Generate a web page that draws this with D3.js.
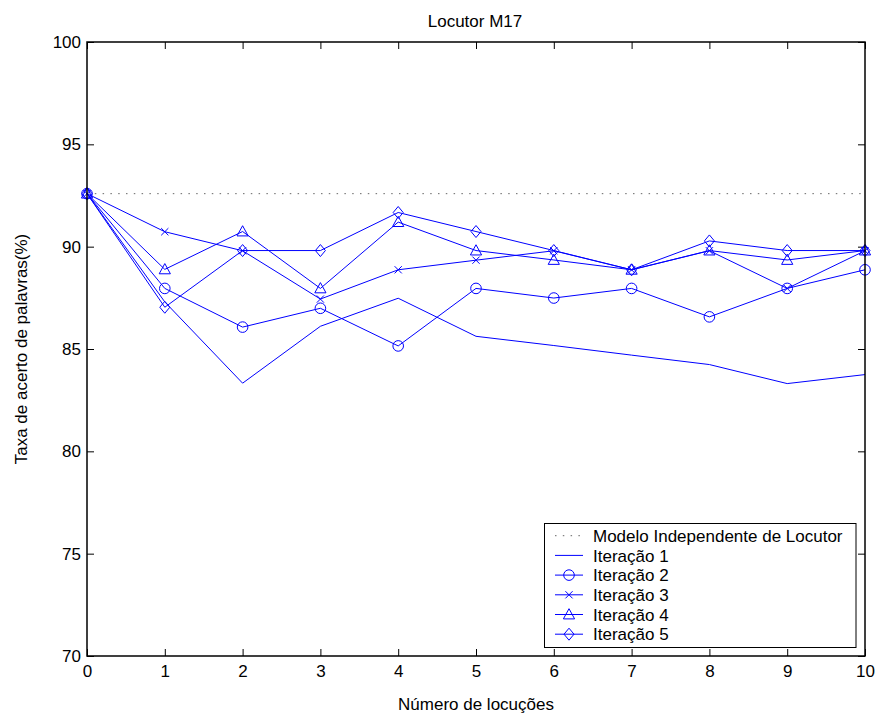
<!DOCTYPE html>
<html>
<head>
<meta charset="utf-8">
<script src="https://cdn.jsdelivr.net/npm/d3@7"></script>
<style>
  html, body { margin: 0; padding: 0; background: #fff; }
  svg { display: block; }
  text { font-family: "Liberation Sans", Arial, Helvetica, sans-serif; fill: #000; }
</style>
</head>
<body>
<svg id="chart" width="878" height="715"></svg>
<script>
// Number of adaptation utterances
const locucoes = [0, 1, 2, 3, 4, 5, 6, 7, 8, 9, 10];

// Speaker-independent baseline accuracy (%)
const modeloIndependente = 92.59;

// Word accuracy (%) per adaptation iteration
const iteracao1 = [92.59, 87.30, 83.33, 86.11, 87.48, 85.62, 85.17, 84.70, 84.24, 83.31, 83.75];
const iteracao2 = [92.59, 87.96, 86.07, 86.99, 85.15, 87.96, 87.49, 87.96, 86.57, 87.96, 88.87];
const iteracao3 = [92.59, 90.73, 89.80, 87.44, 88.87, 89.34, 89.80, 88.87, 89.80, 87.96, 89.80];
const iteracao4 = [92.59, 88.89, 90.74, 87.96, 91.20, 89.81, 89.35, 88.87, 89.81, 89.35, 89.81];
const iteracao5 = [92.59, 87.04, 89.81, 89.81, 91.67, 90.74, 89.81, 88.87, 90.28, 89.81, 89.81];

const xTicks = [0, 1, 2, 3, 4, 5, 6, 7, 8, 9, 10];
const yTicks = [70, 75, 80, 85, 90, 95, 100];

const legendLabels = [
  "Modelo Independente de Locutor",
  "Iteração 1", "Iteração 2", "Iteração 3", "Iteração 4", "Iteração 5"
];

const svg = d3.select("#chart");
const plotLeft = 87, plotRight = 865, plotTop = 42, plotBottom = 656;
const blue = "#0000ff";
const fontSize = 17;

const x = d3.scaleLinear().domain([0, 10]).range([plotLeft, plotRight]);
const y = d3.scaleLinear().domain([70, 100]).range([plotBottom, plotTop]);

// Marker shapes
const markerPaths = {
  none: null,
  circle: "M5.3,0A5.3,5.3 0 1,1 -5.3,0A5.3,5.3 0 1,1 5.3,0Z",
  cross: "M-3.6,-3.6L3.6,3.6M-3.6,3.6L3.6,-3.6",
  triangle: "M0,-5.8L5.6,4.4L-5.6,4.4Z",
  diamond: "M0,-6L5,0L0,6L-5,0Z"
};

const series = [
  { values: iteracao1, marker: "none" },
  { values: iteracao2, marker: "circle" },
  { values: iteracao3, marker: "cross" },
  { values: iteracao4, marker: "triangle" },
  { values: iteracao5, marker: "diamond" }
];

// Axes: ticks point inward on all four sides
const axisG = svg.append("g");
const bottomAxis = d3.axisBottom(x).tickValues(xTicks).tickSize(-7).tickPadding(9).tickFormat(d3.format("d"));
const leftAxis = d3.axisLeft(y).tickValues(yTicks).tickSize(-7).tickPadding(6).tickFormat(d3.format("d"));
const topAxis = d3.axisTop(x).tickValues(xTicks).tickSize(-7).tickFormat("");
const rightAxis = d3.axisRight(y).tickValues(yTicks).tickSize(-7).tickFormat("");

function styleAxis(g) {
  g.select(".domain").remove();
  g.selectAll(".tick line").attr("stroke", "#000").attr("stroke-width", 1);
  g.selectAll(".tick text").attr("font-size", fontSize).attr("fill", "#000")
    .attr("font-family", "Liberation Sans, Arial, sans-serif");
}

axisG.append("g").attr("transform", `translate(0,${plotBottom})`).call(bottomAxis).call(styleAxis);
axisG.append("g").attr("transform", `translate(${plotLeft},0)`).call(leftAxis).call(styleAxis);
axisG.append("g").attr("transform", `translate(0,${plotTop})`).call(topAxis).call(styleAxis);
axisG.append("g").attr("transform", `translate(${plotRight},0)`).call(rightAxis).call(styleAxis);

// Speaker-independent reference (dotted)
svg.append("line")
  .attr("x1", x(0)).attr("x2", x(10))
  .attr("y1", y(modeloIndependente)).attr("y2", y(modeloIndependente))
  .attr("stroke", "#666").attr("stroke-width", 1)
  .attr("stroke-dasharray", "1.5,6.3");

// Iteration lines and markers
const line = d3.line().x((d, i) => x(locucoes[i])).y(d => y(d));
series.forEach(s => {
  svg.append("path")
    .attr("d", line(s.values))
    .attr("fill", "none").attr("stroke", blue).attr("stroke-width", 1);
  if (markerPaths[s.marker]) {
    svg.append("g").selectAll("path")
      .data(s.values)
      .join("path")
      .attr("transform", (d, i) => `translate(${x(locucoes[i])},${y(d)})`)
      .attr("d", markerPaths[s.marker])
      .attr("fill", "none").attr("stroke", blue).attr("stroke-width", 1);
  }
});

// Plot frame
svg.append("rect")
  .attr("x", plotLeft).attr("y", plotTop)
  .attr("width", plotRight - plotLeft).attr("height", plotBottom - plotTop)
  .attr("fill", "none").attr("stroke", "#000").attr("stroke-width", 1.5);

// Title and axis labels
svg.append("text").attr("x", 475).attr("y", 26.5).attr("text-anchor", "middle")
  .attr("font-size", fontSize).text("Locutor M17");
svg.append("text").attr("x", 476).attr("y", 710).attr("text-anchor", "middle")
  .attr("font-size", fontSize).text("Número de locuções");
svg.append("text").attr("transform", `translate(27,${(plotTop + plotBottom) / 2}) rotate(-90)`)
  .attr("text-anchor", "middle").attr("font-size", fontSize)
  .text("Taxa de acerto de palavras(%)");

// Legend
const lg = svg.append("g");
const lgX = 544.5, lgY = 523.5, lgW = 311.5, lgH = 124;
lg.append("rect").attr("x", lgX).attr("y", lgY).attr("width", lgW).attr("height", lgH)
  .attr("fill", "#fff").attr("stroke", "#000").attr("stroke-width", 1);
const rowY = i => 535.7 + i * 19.7;
legendLabels.forEach((label, i) => {
  const cy = rowY(i);
  if (i === 0) {
    lg.append("line").attr("x1", 555).attr("x2", 583).attr("y1", cy).attr("y2", cy)
      .attr("stroke", "#666").attr("stroke-width", 1).attr("stroke-dasharray", "1.5,6.3");
  } else {
    lg.append("line").attr("x1", 555).attr("x2", 583).attr("y1", cy).attr("y2", cy)
      .attr("stroke", blue).attr("stroke-width", 1);
    const mk = markerPaths[series[i - 1].marker];
    if (mk) {
      lg.append("path").attr("transform", `translate(569,${cy})`).attr("d", mk)
        .attr("fill", "none").attr("stroke", blue).attr("stroke-width", 1);
    }
  }
  lg.append("text").attr("x", 593).attr("y", cy).attr("dy", "0.36em")
    .attr("font-size", fontSize).text(label);
});
</script>
</body>
</html>
